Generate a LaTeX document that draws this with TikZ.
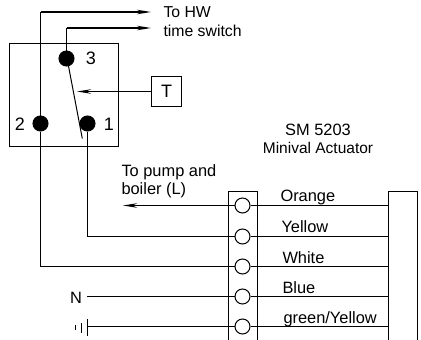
\documentclass[tikz,border=0pt]{standalone}
\usepackage{fontspec}
\setmainfont{Liberation Sans}
\usetikzlibrary{arrows.meta, positioning}

\begin{document}
\begin{tikzpicture}[x=1pt, y=-1pt, on grid,
    >={Stealth[length=14pt, width=4.5pt]}, line width=1pt,
    dot/.style={circle, fill=black, draw=black, minimum size=15pt, inner sep=0pt},
    terminal/.style={circle, fill=white, draw=black, minimum size=15pt, inner sep=0pt},
    wirelabel/.style={anchor=base west, inner sep=0pt, font=\fontsize{16.4}{18}\selectfont},
    bigtext/.style={inner sep=0pt, font=\fontsize{18}{20}\selectfont},
    heavy/.style={line width=1.5pt}]
  \useasboundingbox (0,0) rectangle (421,340);
  % switch body
  \node[draw, minimum width=109pt, minimum height=103pt, inner sep=0pt] (body) at (64,95) {};
  \node[dot] (dot3) at (66.5,58.5) {};
  \node[dot] (dot2) at (40.5,123.5) {};
  \node[dot] (dot1) at (87.5,123.5) {};
  \node[bigtext] (num3) at (91,58) {3};
  \node[bigtext] (num2) at (20,124) {2};
  \node[bigtext] (num1) at (109,124) {1};
  \node[draw, minimum width=30pt, minimum height=30pt, inner sep=0pt, font=\fontsize{18}{20}\selectfont] (stat) at (166.5,91.5) {T};
  \coordinate (swTip) at (82.3,138.5);
  \coordinate (swTop) at (68.3,65);
  \coordinate (swMid) at (77,91.5);
  \coordinate (hwA) at (151,12);
  \coordinate (hwB) at (151,28);
  \coordinate (turnA) at (40.5,12);
  \coordinate (turnB) at (66.5,28);
  \node[wirelabel, font=\fontsize{15.8}{17}\selectfont] (lblHW) at (163,17) {To HW};
  \node[wirelabel, font=\fontsize{15.8}{17}\selectfont] (lblTime) at (163,36) {time switch};
  % terminal strip
  \coordinate (stripA) at (228.5,340);
  \coordinate (stripB) at (257.5,191.5);
  \coordinate (actA) at (388.5,340);
  \coordinate (actB) at (417.5,191.5);
  \coordinate (act) at (388.5,0);
  \draw (stripA) |- (stripB) -- (stripB |- stripA);
  \draw (actA) |- (actB) -- (actB |- actA);
  \node[terminal] (term1) at (242.5,205.5) {};
  \node[terminal] (term2) [below=31pt of term1] {};
  \node[terminal] (term3) [below=30pt of term2] {};
  \node[terminal] (term4) [below=30pt of term3] {};
  \node[terminal] (term5) [below=30pt of term4] {};
  \coordinate (pump) at (123,205.5);
  \coordinate (neutral) at (87,296.5);
  \coordinate (earth) at (87.5,326.5);
  \coordinate (earthA) at (87.5,319);
  \coordinate (earthB) at (87.5,336);
  \coordinate (earthC) at (81.5,323);
  \coordinate (earthD) at (81.5,332.5);
  \coordinate (earthE) at (75.5,325);
  \coordinate (earthF) at (75.5,329.5);
  \node[wirelabel] (lblOrange) at (280,201) {Orange};
  \node[wirelabel] (lblYellow) at (281,232) {Yellow};
  \node[wirelabel] (lblWhite) at (282,263) {White};
  \node[wirelabel] (lblBlue) at (282,293) {Blue};
  \node[wirelabel] (lblGreen) at (283,323) {green/Yellow};
  \node[wirelabel] (lblN) at (69.5,303) {N};
  \node[wirelabel] (lblPump) at (121,176) {To pump and};
  \node[wirelabel] (lblBoiler) at (121,194) {boiler (L)};
  \node[wirelabel, anchor=base] (lblSM) at (318,135) {SM 5203};
  \node[wirelabel, anchor=base, font=\fontsize{15.5}{17}\selectfont] (lblMini) at (318,153) {Minival Actuator};
  % wires
  \draw (term1) -- (term1 -| act);
  \draw (term2) -- (term2 -| act);
  \draw (term3) -- (term3 -| act);
  \draw (term4) -- (term4 -| act);
  \draw (term5) -- (term5 -| act);
  \draw (dot2) -- (turnA);
  \draw (dot3) -- (turnB);
  \draw[heavy, ->] (turnA) -- (hwA);
  \draw[heavy, ->] (turnB) -- (hwB);
  \draw (swTop) -- (swTip);
  \draw[->] (stat) -- (swMid);
  \draw (dot1) |- (term2);
  \draw (dot2) |- (term3);
  \draw[heavy, ->] (term1) -- (pump);
  \draw (term4) -- (neutral);
  \draw (term5) -- (earth);
  \draw (earthA) -- (earthB);
  \draw (earthC) -- (earthD);
  \draw (earthE) -- (earthF);
\end{tikzpicture}
\end{document}
